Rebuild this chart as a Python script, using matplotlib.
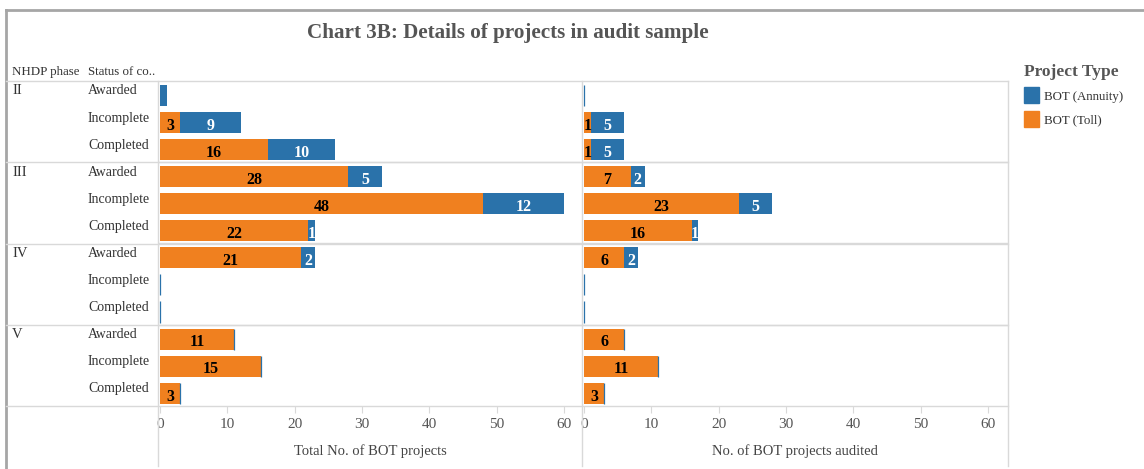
import matplotlib.pyplot as plt
from matplotlib.lines import Line2D
from matplotlib.patches import Patch

plt.rcParams["font.family"] = ["Liberation Serif", "DejaVu Serif"]

phases = ["II", "III", "IV", "V"]
statuses = ["Awarded", "Incomplete", "Completed"]

total_toll = [0, 3, 16, 28, 48, 22, 21, 0, 0, 11, 15, 3]
total_annuity = [1, 9, 10, 5, 12, 1, 2, 0, 0, 0, 0, 0]
audited_toll = [0, 1, 1, 7, 23, 16, 6, 0, 0, 6, 11, 3]
audited_annuity = [0, 5, 5, 2, 5, 1, 2, 0, 0, 0, 0, 0]

xticks = [0, 10, 20, 30, 40, 50, 60]

TOLL = "#f0801f"
ANNUITY = "#2a72aa"
GRID = "#d9d9d9"
TEXT = "#333333"

W, H = 1144, 469
fig = plt.figure(figsize=(W / 100, H / 100), dpi=100)


def fx(px):
    return px / W


def fy(py):
    return 1 - py / H


top, bottom = 81, 406
row_h = (bottom - top) / 12

ax1 = fig.add_axes([fx(158), fy(bottom), fx(582 - 158), fy(top) - fy(bottom)])
ax2 = fig.add_axes([fx(582), fy(bottom), fx(1008 - 582), fy(top) - fy(bottom)])

panels = [
    (ax1, total_toll, total_annuity, "Total No. of BOT projects", 62.7, {0}),
    (ax2, audited_toll, audited_annuity, "No. of BOT projects audited", 63.0, set()),
]

ypos = [i + 0.53 for i in range(12)]

for ax, toll, annuity, xlabel, xmax, skip in panels:
    ax.barh(ypos, toll, height=0.78, color=TOLL, linewidth=0)
    ax.barh(ypos, annuity, left=toll, height=0.78, color=ANNUITY,
            edgecolor=ANNUITY, linewidth=[0.9 if a == 0 else 0 for a in annuity])
    for i in range(12):
        if toll[i] > 0:
            ax.text(toll[i] / 2, ypos[i] + 0.12, str(toll[i]), ha="center", va="center",
                    fontsize=11.5, fontweight="bold", color="black")
        if annuity[i] > 0 and i not in skip:
            ax.text(toll[i] + annuity[i] / 2, ypos[i] + 0.12, str(annuity[i]),
                    ha="center", va="center", fontsize=11.5, fontweight="bold", color="white")
    ax.set_xlim(-0.3, xmax)
    ax.set_ylim(12, 0)
    ax.set_yticks([])
    ax.set_xticks(xticks)
    ax.tick_params(axis="x", length=5, color=GRID, labelsize=11, labelcolor="#555555", pad=4)
    ax.set_xlabel(xlabel, fontsize=10.5, color="#444444", labelpad=9)
    for s in ax.spines.values():
        s.set_visible(False)
    for k in [3, 6, 9]:
        ax.axhline(k, color=GRID, linewidth=1)

# frame and grid lines outside the axes
lines = [
    ([6, 6], [10, H]),
    ([6, W], [10, 10]),
]
for xs, ys in lines:
    fig.add_artist(Line2D([fx(x) for x in xs], [fy(y) for y in ys], color="#a6a6a6", linewidth=2))

for k in range(5):
    y = top + k * 3 * row_h
    fig.add_artist(Line2D([fx(6), fx(1008)], [fy(y), fy(y)], color=GRID, linewidth=1))
for x in [158, 582, 1008]:
    fig.add_artist(Line2D([fx(x), fx(x)], [fy(top), fy(466)], color=GRID, linewidth=1))

# row headers
fig.text(fx(12), fy(72), "NHDP phase", fontsize=9.3, color=TEXT, va="center")
fig.text(fx(88), fy(72), "Status of co..", fontsize=9.3, color=TEXT, va="center")
for p, phase in enumerate(phases):
    for s, status in enumerate(statuses):
        i = p * 3 + s
        y = top + i * row_h + 10
        if s == 0:
            fig.text(fx(12), fy(y), phase, fontsize=10.5, color=TEXT, va="center")
        fig.text(fx(88), fy(y), status, fontsize=10, color=TEXT, va="center")

fig.text(fx(508), fy(33), "Chart 3B: Details of projects in audit sample", fontsize=15.2,
         fontweight="bold", color="#555555", ha="center", va="center")

handles = [Patch(color=ANNUITY, label="BOT (Annuity)"), Patch(color=TOLL, label="BOT (Toll)")]
leg = fig.legend(handles=handles, title="Project Type", loc="upper left",
                 bbox_to_anchor=(fx(1012), fy(52)), frameon=False, fontsize=9.3,
                 title_fontsize=12.5, handlelength=1.2, handleheight=1.5,
                 handletextpad=0.4, labelspacing=0.6, alignment="left")
leg.get_title().set_color("#555555")
leg.get_title().set_fontweight("bold")
for t in leg.get_texts():
    t.set_color(TEXT)

fig.savefig("out.png", dpi=100)
